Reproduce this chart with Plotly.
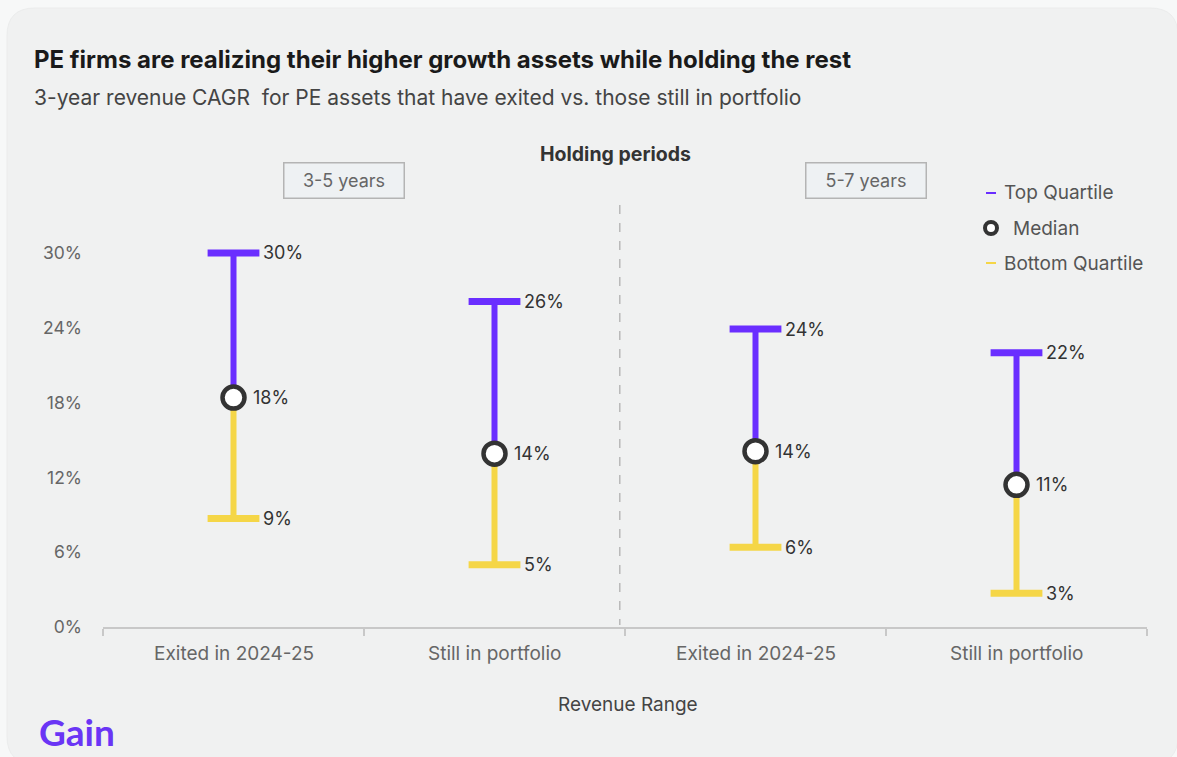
import plotly.graph_objects as go

# --- data -------------------------------------------------------------
categories = ["Exited in 2024-25", "Still in portfolio", "Exited in 2024-25", "Still in portfolio"]
holding_periods = ["3-5 years", "5-7 years"]
top_quartile = [30.0, 26.1, 23.9, 22.0]
median = [18.4, 13.9, 14.1, 11.4]
bottom_quartile = [8.7, 5.0, 6.4, 2.7]
y_ticks = [0, 6, 12, 18, 24, 30]

PURPLE = "#6a2eff"
YELLOW = "#f5d647"
DARK = "#333333"
GREY_TXT = "#666666"
FONT = "Inter"

W, H = 1177, 757
ML, MR, MT, MB = 103, 30, 228, 130
PW, PH = W - ML - MR, H - MT - MB


def px(x):
    return (x - ML) / PW


def py(y):
    return (H - MB - y) / PH


xs = list(range(len(categories)))
fig = go.Figure()

# whiskers: median -> top (purple), median -> bottom (yellow)
up_x, up_y, dn_x, dn_y = [], [], [], []
for i in xs:
    up_x += [i, i, None]
    up_y += [median[i], top_quartile[i], None]
    dn_x += [i, i, None]
    dn_y += [median[i], bottom_quartile[i], None]

fig.add_trace(go.Scatter(x=up_x, y=up_y, mode="lines", line=dict(color=PURPLE, width=6),
                         hoverinfo="skip", showlegend=False))
fig.add_trace(go.Scatter(x=dn_x, y=dn_y, mode="lines", line=dict(color=YELLOW, width=6),
                         hoverinfo="skip", showlegend=False))

# caps
fig.add_trace(go.Scatter(x=xs, y=top_quartile, mode="markers",
                         marker=dict(symbol="line-ew", size=37, line=dict(color=PURPLE, width=7)),
                         showlegend=False, name="Top Quartile"))
fig.add_trace(go.Scatter(x=xs, y=bottom_quartile, mode="markers",
                         marker=dict(symbol="line-ew", size=37, line=dict(color=YELLOW, width=7)),
                         showlegend=False, name="Bottom Quartile"))

# median markers
fig.add_trace(go.Scatter(x=xs, y=median, mode="markers",
                         marker=dict(symbol="circle", size=22, color="white",
                                     line=dict(color=DARK, width=4.5)),
                         showlegend=False, name="Median"))

annotations = []
for i in xs:
    for val, shift in ((top_quartile[i], 27), (median[i], 17), (bottom_quartile[i], 27)):
        annotations.append(dict(x=i, y=val, xref="x", yref="y", text=f"{val:.0f}%",
                                showarrow=False, xanchor="left", yanchor="middle", xshift=shift,
                                yshift=0, font=dict(family=FONT, size=18, color=DARK)))

# category labels
for i, c in enumerate(categories):
    annotations.append(dict(x=i, y=py(653), xref="x", yref="paper", text=c, showarrow=False,
                            xanchor="center", yanchor="middle",
                            font=dict(family=FONT, size=19, color=GREY_TXT)))

# titles and axis title
annotations += [
    dict(x=px(32), y=py(59), xref="paper", yref="paper", xanchor="left", yanchor="middle",
         text="<b>PE firms are realizing their higher growth assets while holding the rest</b>",
         showarrow=False, font=dict(family=FONT, size=24, color="#1a1a1a")),
    dict(x=px(32), y=py(98), xref="paper", yref="paper", xanchor="left", yanchor="middle",
         text="3-year revenue CAGR\u00a0 for PE assets that have exited vs. those still in portfolio",
         showarrow=False, font=dict(family=FONT, size=21, color="#444444")),
    dict(x=px(615), y=py(154), xref="paper", yref="paper", xanchor="center", yanchor="middle",
         text="<b>Holding periods</b>", showarrow=False,
         font=dict(family=FONT, size=19.5, color="#333333")),
    dict(x=px(628), y=py(704), xref="paper", yref="paper", xanchor="center", yanchor="middle",
         text="Revenue Range", showarrow=False,
         font=dict(family=FONT, size=19, color="#444444")),
    dict(x=px(37), y=py(731), xref="paper", yref="paper", xanchor="left", yanchor="middle",
         text="<b>Gain</b>", showarrow=False,
         font=dict(family="Lato", size=37, color="#6a35f5")),
]

# holding period boxes
for label, cx in zip(holding_periods, (344, 866)):
    annotations.append(dict(x=px(cx), y=py(180), xref="paper", yref="paper", text=label,
                            showarrow=False, xanchor="center", yanchor="middle",
                            width=117, height=32, bgcolor="#eef1f3", bordercolor="#b4b4b4",
                            borderwidth=1.5, font=dict(family=FONT, size=18, color=GREY_TXT)))

# legend
legend_items = [("Top Quartile", 193, 1002), ("Median", 228, 1011), ("Bottom Quartile", 263, 1002)]
for text, ly, lx in legend_items:
    annotations.append(dict(x=px(lx), y=py(ly), xref="paper", yref="paper", text=text,
                            showarrow=False, xanchor="left", yanchor="middle",
                            font=dict(family=FONT, size=19, color="#555555")))

shapes = []
# card background with rounded corners
L, T, R, B, r = 7, 8, 1178, 764, 28
path = (f"M {px(L + r)},{py(T)} L {px(R - r)},{py(T)} Q {px(R)},{py(T)} {px(R)},{py(T + r)} "
        f"L {px(R)},{py(B - r)} Q {px(R)},{py(B)} {px(R - r)},{py(B)} "
        f"L {px(L + r)},{py(B)} Q {px(L)},{py(B)} {px(L)},{py(B - r)} "
        f"L {px(L)},{py(T + r)} Q {px(L)},{py(T)} {px(L + r)},{py(T)} Z")
shapes.append(dict(type="path", path=path, xref="paper", yref="paper", layer="below",
                   fillcolor="#f0f1f1", line=dict(color="#ebecec", width=1)))

# separator between holding periods
shapes.append(dict(type="line", xref="x", yref="paper", x0=1.48, x1=1.48, y0=py(205), y1=py(625),
                   line=dict(color="#b9b9b9", width=1.5, dash="dash")))

# legend glyphs
shapes.append(dict(type="line", xref="paper", yref="paper", x0=px(986), x1=px(996),
                   y0=py(193), y1=py(193), line=dict(color=PURPLE, width=2)))
shapes.append(dict(type="line", xref="paper", yref="paper", x0=px(986), x1=px(996),
                   y0=py(263), y1=py(263), line=dict(color=YELLOW, width=2)))
shapes.append(dict(type="circle", xref="paper", yref="paper", x0=px(985), x1=px(997),
                   y0=py(234), y1=py(222), fillcolor="white", line=dict(color=DARK, width=4)))

fig.update_layout(
    width=W, height=H,
    margin=dict(l=ML, r=MR, t=MT, b=MB, pad=0),
    paper_bgcolor="#f7f8f8",
    plot_bgcolor="rgba(0,0,0,0)",
    showlegend=False,
    annotations=annotations,
    shapes=shapes,
    xaxis=dict(range=[-0.5, 3.5], showgrid=False, zeroline=False, showline=True,
               linecolor="#c8c8c8", linewidth=2, tickvals=xs, ticktext=[""] * 4, ticks="",
               minor=dict(tickvals=[-0.5, 0.5, 1.5, 2.5, 3.5], ticks="outside", ticklen=7,
                          tickcolor="#c8c8c8", tickwidth=1.5, showgrid=False),
               fixedrange=True),
    yaxis=dict(range=[0, 32], tickvals=y_ticks, ticktext=[f"{v}%" for v in y_ticks],
               showgrid=False, zeroline=False, showline=False, ticks="",
               ticklabelstandoff=20, tickfont=dict(family=FONT, size=17.5, color=GREY_TXT),
               fixedrange=True),
)

fig.write_html("out.html")
